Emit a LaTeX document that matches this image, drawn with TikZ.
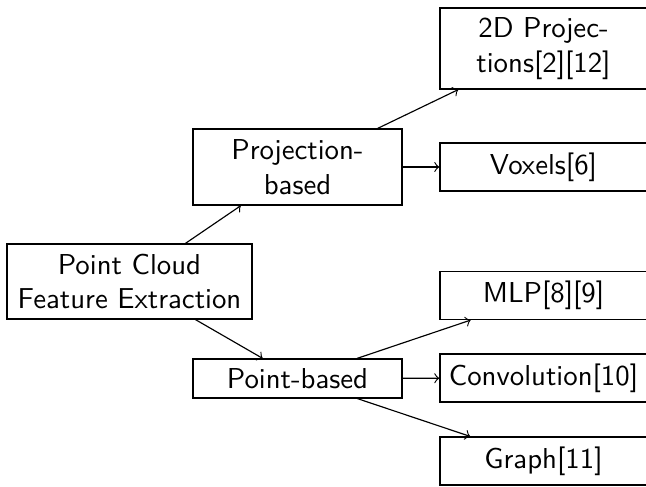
\documentclass[tikz,border=0pt]{standalone}
\begin{document}
\begin{tikzpicture}[x=0.3472pt,y=-0.3472pt,
  box/.style={draw,rectangle,align=center,font=\sffamily,inner sep=2pt},
  rootbox/.style={box,minimum width=85.06pt,minimum height=26.04pt},
  midbox/.style={box,minimum width=72.56pt},
  leafbox/.style={box,minimum width=71.87pt,minimum height=16.67pt},
  link/.style={->}]
\useasboundingbox (0,0) rectangle (646,486);
\clip (0,0) rectangle (646,486);
\node[rootbox] (root) at (129.5,281.5) {Point Cloud\\Feature Extraction};
\node[midbox,minimum height=26.39pt] (proj) at (297.5,167) {Projection-\\based};
\node[midbox,minimum height=13.54pt] (point) at (297.5,378.5) {Point-based};
\node[leafbox,minimum height=28.12pt] (twod) at (543.5,48.5) {2D Projec-\\tions[2][12]};
\node[leafbox] (vox) at (543.5,167) {Voxels[6]};
\node[leafbox] (mlp) at (543.5,295.5) {MLP[8][9]};
\node[leafbox] (conv) at (543.5,378) {Convolution[10]};
\node[leafbox] (graph) at (543.5,461) {Graph[11]};
\draw[link] (root) -- (proj);
\draw[link] (root) -- (point);
\draw[link] (proj) -- (twod);
\draw[link] (proj) -- (vox);
\draw[link] (point) -- (mlp);
\draw[link] (point) -- (conv);
\draw[link] (point) -- (graph);
\end{tikzpicture}
\end{document}
